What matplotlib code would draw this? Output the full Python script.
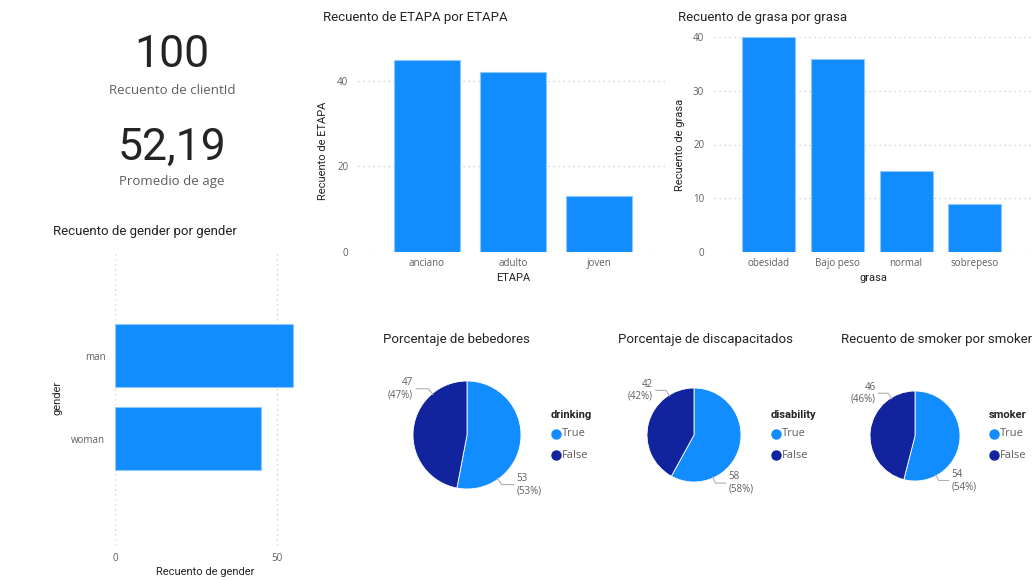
import matplotlib
matplotlib.use("Agg")
import matplotlib.pyplot as plt
import numpy as np

# ---------------- data ----------------
kpi_values = ["100", "52,19"]
kpi_labels = ["Recuento de clientId", "Promedio de age"]

etapa_cats = ["anciano", "adulto", "joven"]
etapa_vals = [45, 42, 13]

grasa_cats = ["obesidad", "Bajo peso", "normal", "sobrepeso"]
grasa_vals = [40, 36, 15, 9]

gender_cats = ["man", "woman"]
gender_vals = [55, 45]

pie_labels = ["True", "False"]
drinking_vals = [53, 47]
disability_vals = [58, 42]
smoker_vals = [54, 46]

# ---------------- style ----------------
W, H = 1032, 580
BLUE = "#118DFF"
NAVY = "#12239E"
EDGE = "#8FC6FF"
TITLE_C = "#252423"
TICK_C = "#605E5C"
GRID_C = "#C8C6C4"
TFONT = "Roboto"
LFONT = "Open Sans"

fig = plt.figure(figsize=(W / 100, H / 100), dpi=100)
fig.patch.set_facecolor("white")


def px(l, t, r, b):
    return [l / W, 1 - b / H, (r - l) / W, (b - t) / H]


ov = fig.add_axes([0, 0, 1, 1])
ov.set_xlim(0, W)
ov.set_ylim(H, 0)
ov.axis("off")

# KPI cards
for (val, lab, yv, yl) in zip(kpi_values, kpi_labels, [55, 148], [90, 182]):
    ov.text(172, yv, val, fontsize=32, color=TITLE_C, ha="center", va="center", family=TFONT)
    ov.text(172, yl, lab, fontsize=9.5, color=TICK_C, ha="center", va="center", family=LFONT)

# titles
titles = [
    (323, 18, "Recuento de ETAPA por ETAPA"),
    (678, 18, "Recuento de grasa por grasa"),
    (53, 232, "Recuento de gender por gender"),
    (383, 340, "Porcentaje de bebedores"),
    (618, 340, "Porcentaje de discapacitados"),
    (841, 340, "Recuento de smoker por smoker"),
]
for x, y, t in titles:
    ov.text(x, y, t, fontsize=9.5, color=TITLE_C, ha="left", va="center", family=TFONT)


def style_axes(ax):
    for s in ax.spines.values():
        s.set_visible(False)
    ax.tick_params(length=0, labelsize=7, labelcolor=TICK_C)
    for lab in ax.get_xticklabels() + ax.get_yticklabels():
        lab.set_family(LFONT)
    ax.set_facecolor("none")


# ETAPA column chart
ax1 = fig.add_axes(px(358, 50, 668, 252))
x1 = np.arange(len(etapa_cats))
ax1.bar(x1, etapa_vals, width=0.76, color=BLUE, edgecolor=EDGE, linewidth=0.8, zorder=2)
ax1.set_xlim(-0.8, 2.8)
ax1.set_ylim(0, 47.25)
ax1.set_yticks([0, 20, 40])
ax1.set_xticks(x1)
ax1.set_xticklabels(etapa_cats)
ax1.yaxis.grid(True, color=GRID_C, linestyle=(0, (1, 3)), linewidth=0.9, zorder=0)
ax1.set_axisbelow(True)
style_axes(ax1)
ax1.tick_params(axis="y", pad=7)
ax1.tick_params(axis="x", pad=4)
ax1.set_xlabel("ETAPA", fontsize=8, color=TITLE_C, family=TFONT, labelpad=3)
ax1.set_ylabel("Recuento de ETAPA", fontsize=8, color=TITLE_C, family=TFONT)
ax1.yaxis.set_label_coords((328 - 358) / 310, 0.5)

# grasa column chart
ax2 = fig.add_axes(px(714, 37, 1032, 252))
x2 = np.arange(len(grasa_cats))
ax2.bar(x2, grasa_vals, width=0.77, color=BLUE, edgecolor=EDGE, linewidth=0.8, zorder=2)
ax2.set_xlim(-0.79, 3.83)
ax2.set_ylim(0, 40)
ax2.set_yticks([0, 10, 20, 30, 40])
ax2.set_xticks(x2)
ax2.set_xticklabels(grasa_cats)
ax2.yaxis.grid(True, color=GRID_C, linestyle=(0, (1, 3)), linewidth=0.9, zorder=0)
ax2.set_axisbelow(True)
style_axes(ax2)
ax2.tick_params(axis="y", pad=7)
ax2.tick_params(axis="x", pad=4)
ax2.set_xlabel("grasa", fontsize=8, color=TITLE_C, family=TFONT, labelpad=3)
ax2.set_ylabel("Recuento de grasa", fontsize=8, color=TITLE_C, family=TFONT)
ax2.yaxis.set_label_coords((685 - 714) / 318, 0.5)

# gender bar chart
ax3 = fig.add_axes(px(115, 250, 296, 545))
y3 = np.arange(len(gender_cats))
ax3.barh(y3, gender_vals, height=0.76, color=BLUE, edgecolor=EDGE, linewidth=0.8, zorder=2)
ax3.set_ylim(2.28, -1.27)
ax3.set_xlim(0, 55.9)
ax3.set_xticks([0, 50])
ax3.set_yticks(y3)
ax3.set_yticklabels(gender_cats)
ax3.xaxis.grid(True, color=GRID_C, linestyle=(0, (1, 3)), linewidth=0.9, zorder=0)
ax3.set_axisbelow(True)
style_axes(ax3)
ax3.tick_params(axis="y", pad=7)
ax3.tick_params(axis="x", pad=6)
ax3.set_xlabel("Recuento de gender", fontsize=8, color=TITLE_C, family=TFONT, labelpad=2)
ax3.set_ylabel("gender", fontsize=8, color=TITLE_C, family=TFONT)
ax3.yaxis.set_label_coords((62 - 115) / 181, 0.5)


# pies
def draw_pie(vals, cx, cy, r, ang_l, ang_r, leg_x, leg_title):
    s = 90
    ax = fig.add_axes(px(cx - s, cy - s, cx + s, cy + s))
    ax.pie(vals, colors=[BLUE, NAVY], startangle=90, counterclock=False, radius=1,
           wedgeprops=dict(edgecolor="white", linewidth=0.6))
    lim = s / r
    ax.set_xlim(-lim, lim)
    ax.set_ylim(-lim, lim)
    ax.set_aspect("equal")
    ax.axis("off")
    total = sum(vals)
    for v, ang, side in [(vals[1], ang_l, -1), (vals[0], ang_r, 1)]:
        a = np.deg2rad(ang)
        p0 = (np.cos(a) * 0.98, np.sin(a) * 0.98)
        p1 = (np.cos(a) * 1.12, np.sin(a) * 1.12)
        p2 = (p1[0] + side * 0.22, p1[1])
        ax.plot([p0[0], p1[0], p2[0]], [p0[1], p1[1], p2[1]], color="#B3B0AD",
                linewidth=0.8, clip_on=False)
        ax.text(p2[0] + side * 0.06, p2[1], f"{v}\n({round(100 * v / total)}%)",
                ha="right" if side < 0 else "left", va="center", fontsize=7,
                color=TICK_C, family=LFONT, linespacing=1.15, clip_on=False)
    ov.text(leg_x, 415, leg_title, fontsize=8, weight="bold", color=TITLE_C,
            ha="left", va="center", family=TFONT)
    for lab, col, yy in zip(pie_labels, [BLUE, NAVY], [434, 455]):
        ov.plot([leg_x + 5], [yy], marker="o", markersize=6.5, color=col, linestyle="none")
        ov.text(leg_x + 11, yy, lab, fontsize=8, color=TICK_C, ha="left", va="center",
                family=LFONT)


draw_pie(drinking_vals, 467, 435, 54, 130, -55, 551, "drinking")
draw_pie(disability_vals, 694, 435, 47, 122, -66, 771, "disability")
draw_pie(smoker_vals, 915, 436, 45, 122, -62, 989, "smoker")

fig.savefig("out.png", dpi=100, facecolor="white")
